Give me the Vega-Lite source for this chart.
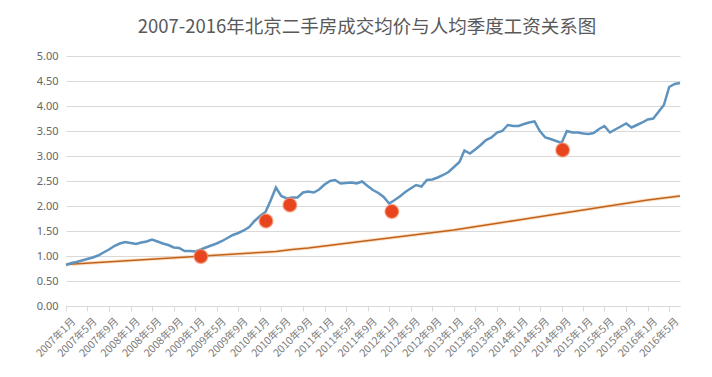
{
  "$schema": "https://vega.github.io/schema/vega-lite/v6.json",
  "width": 614,
  "height": 250,
  "autosize": {"type": "none"},
  "padding": {"left": 66, "top": 56, "right": 32, "bottom": 71},
  "background": "white",
  "config": {
    "view": {"stroke": null},
    "font": "Noto Sans CJK SC"
  },
  "title": {
    "text": "2007-2016年北京二手房成交均价与人均季度工资关系图",
    "fontSize": 18.5,
    "fontWeight": "normal",
    "color": "#595959",
    "font": "Noto Sans CJK SC",
    "anchor": "middle",
    "dx": -6,
    "offset": 14
  },
  "datasets": {
    "price": [
      {"d": "2007-01-01", "v": 0.82}, {"d": "2007-02-01", "v": 0.86}, {"d": "2007-03-01", "v": 0.88}, {"d": "2007-04-01", "v": 0.91},
      {"d": "2007-05-01", "v": 0.94}, {"d": "2007-06-01", "v": 0.97}, {"d": "2007-07-01", "v": 1.01}, {"d": "2007-08-01", "v": 1.07},
      {"d": "2007-09-01", "v": 1.13}, {"d": "2007-10-01", "v": 1.20}, {"d": "2007-11-01", "v": 1.25}, {"d": "2007-12-01", "v": 1.28},
      {"d": "2008-01-01", "v": 1.26}, {"d": "2008-02-01", "v": 1.24}, {"d": "2008-03-01", "v": 1.27}, {"d": "2008-04-01", "v": 1.29},
      {"d": "2008-05-01", "v": 1.33}, {"d": "2008-06-01", "v": 1.29}, {"d": "2008-07-01", "v": 1.25}, {"d": "2008-08-01", "v": 1.22},
      {"d": "2008-09-01", "v": 1.17}, {"d": "2008-10-01", "v": 1.16}, {"d": "2008-11-01", "v": 1.10}, {"d": "2008-12-01", "v": 1.10},
      {"d": "2009-01-01", "v": 1.09}, {"d": "2009-02-01", "v": 1.13}, {"d": "2009-03-01", "v": 1.17}, {"d": "2009-04-01", "v": 1.21},
      {"d": "2009-05-01", "v": 1.25}, {"d": "2009-06-01", "v": 1.30}, {"d": "2009-07-01", "v": 1.36}, {"d": "2009-08-01", "v": 1.42},
      {"d": "2009-09-01", "v": 1.46}, {"d": "2009-10-01", "v": 1.51}, {"d": "2009-11-01", "v": 1.58}, {"d": "2009-12-01", "v": 1.70},
      {"d": "2010-01-01", "v": 1.80}, {"d": "2010-02-01", "v": 1.88}, {"d": "2010-03-01", "v": 2.10}, {"d": "2010-04-01", "v": 2.37},
      {"d": "2010-05-01", "v": 2.20}, {"d": "2010-06-01", "v": 2.15}, {"d": "2010-07-01", "v": 2.17}, {"d": "2010-08-01", "v": 2.17},
      {"d": "2010-09-01", "v": 2.27}, {"d": "2010-10-01", "v": 2.29}, {"d": "2010-11-01", "v": 2.27}, {"d": "2010-12-01", "v": 2.33},
      {"d": "2011-01-01", "v": 2.43}, {"d": "2011-02-01", "v": 2.50}, {"d": "2011-03-01", "v": 2.52}, {"d": "2011-04-01", "v": 2.45},
      {"d": "2011-05-01", "v": 2.46}, {"d": "2011-06-01", "v": 2.47}, {"d": "2011-07-01", "v": 2.45}, {"d": "2011-08-01", "v": 2.49},
      {"d": "2011-09-01", "v": 2.40}, {"d": "2011-10-01", "v": 2.32}, {"d": "2011-11-01", "v": 2.26}, {"d": "2011-12-01", "v": 2.18},
      {"d": "2012-01-01", "v": 2.05}, {"d": "2012-02-01", "v": 2.12}, {"d": "2012-03-01", "v": 2.19}, {"d": "2012-04-01", "v": 2.28},
      {"d": "2012-05-01", "v": 2.35}, {"d": "2012-06-01", "v": 2.42}, {"d": "2012-07-01", "v": 2.39}, {"d": "2012-08-01", "v": 2.52},
      {"d": "2012-09-01", "v": 2.53}, {"d": "2012-10-01", "v": 2.57}, {"d": "2012-11-01", "v": 2.62}, {"d": "2012-12-01", "v": 2.68},
      {"d": "2013-01-01", "v": 2.78}, {"d": "2013-02-01", "v": 2.88}, {"d": "2013-03-01", "v": 3.11}, {"d": "2013-04-01", "v": 3.05},
      {"d": "2013-05-01", "v": 3.13}, {"d": "2013-06-01", "v": 3.22}, {"d": "2013-07-01", "v": 3.32}, {"d": "2013-08-01", "v": 3.37},
      {"d": "2013-09-01", "v": 3.47}, {"d": "2013-10-01", "v": 3.50}, {"d": "2013-11-01", "v": 3.62}, {"d": "2013-12-01", "v": 3.60},
      {"d": "2014-01-01", "v": 3.60}, {"d": "2014-02-01", "v": 3.64}, {"d": "2014-03-01", "v": 3.67}, {"d": "2014-04-01", "v": 3.69},
      {"d": "2014-05-01", "v": 3.50}, {"d": "2014-06-01", "v": 3.37}, {"d": "2014-07-01", "v": 3.34}, {"d": "2014-08-01", "v": 3.30},
      {"d": "2014-09-01", "v": 3.26}, {"d": "2014-10-01", "v": 3.50}, {"d": "2014-11-01", "v": 3.47}, {"d": "2014-12-01", "v": 3.47},
      {"d": "2015-01-01", "v": 3.45}, {"d": "2015-02-01", "v": 3.44}, {"d": "2015-03-01", "v": 3.46}, {"d": "2015-04-01", "v": 3.54},
      {"d": "2015-05-01", "v": 3.60}, {"d": "2015-06-01", "v": 3.47}, {"d": "2015-07-01", "v": 3.53}, {"d": "2015-08-01", "v": 3.59},
      {"d": "2015-09-01", "v": 3.65}, {"d": "2015-10-01", "v": 3.57}, {"d": "2015-11-01", "v": 3.62}, {"d": "2015-12-01", "v": 3.67},
      {"d": "2016-01-01", "v": 3.73}, {"d": "2016-02-01", "v": 3.75}, {"d": "2016-03-01", "v": 3.88}, {"d": "2016-04-01", "v": 4.02},
      {"d": "2016-05-01", "v": 4.38}, {"d": "2016-06-01", "v": 4.44}, {"d": "2016-07-01", "v": 4.46}
    ],
    "wage": [
      {"d": "2007-01-01", "v": 0.83}, {"d": "2007-04-01", "v": 0.85}, {"d": "2007-07-01", "v": 0.87}, {"d": "2007-10-01", "v": 0.89},
      {"d": "2008-01-01", "v": 0.91}, {"d": "2008-04-01", "v": 0.93}, {"d": "2008-07-01", "v": 0.95}, {"d": "2008-10-01", "v": 0.97},
      {"d": "2009-01-01", "v": 0.99}, {"d": "2009-04-01", "v": 1.01}, {"d": "2009-07-01", "v": 1.03}, {"d": "2009-10-01", "v": 1.05},
      {"d": "2010-01-01", "v": 1.07}, {"d": "2010-04-01", "v": 1.09}, {"d": "2010-07-01", "v": 1.13}, {"d": "2010-10-01", "v": 1.16},
      {"d": "2011-01-01", "v": 1.20}, {"d": "2011-04-01", "v": 1.24}, {"d": "2011-07-01", "v": 1.28}, {"d": "2011-10-01", "v": 1.32},
      {"d": "2012-01-01", "v": 1.36}, {"d": "2012-04-01", "v": 1.40}, {"d": "2012-07-01", "v": 1.44}, {"d": "2012-10-01", "v": 1.48},
      {"d": "2013-01-01", "v": 1.52}, {"d": "2013-04-01", "v": 1.57}, {"d": "2013-07-01", "v": 1.62}, {"d": "2013-10-01", "v": 1.67},
      {"d": "2014-01-01", "v": 1.72}, {"d": "2014-04-01", "v": 1.77}, {"d": "2014-07-01", "v": 1.82}, {"d": "2014-10-01", "v": 1.87},
      {"d": "2015-01-01", "v": 1.92}, {"d": "2015-04-01", "v": 1.97}, {"d": "2015-07-01", "v": 2.02}, {"d": "2015-10-01", "v": 2.07},
      {"d": "2016-01-01", "v": 2.12}, {"d": "2016-04-01", "v": 2.16}, {"d": "2016-07-01", "v": 2.20}
    ],
    "events": [
      {"d": "2009-02-01", "v": 0.99},
      {"d": "2010-02-04", "v": 1.70},
      {"d": "2010-06-19", "v": 2.02},
      {"d": "2012-01-16", "v": 1.89},
      {"d": "2014-09-07", "v": 3.12}
    ]
  },
  "encoding": {
    "x": {
      "field": "d",
      "type": "temporal",
      "scale": {"type": "utc", "domain": ["2007-01-01", "2016-07-01"], "nice": false},
      "axis": {
        "title": null,
        "grid": false,
        "tickCount": {"interval": "month", "step": 4},
        "labelExpr": "utcFormat(datum.value, '%Y年') + (utcmonth(datum.value) + 1) + '月'",
        "labelAngle": -45,
        "labelAlign": "right",
        "labelBaseline": "top",
        "labelFontSize": 10.5,
        "labelColor": "#7a7a7a",
        "labelFont": "Noto Sans CJK SC",
        "labelOverlap": false,
        "labelFlush": false,
        "labelPadding": 5,
        "labelOffset": 4,
        "domainColor": "#d9d9d9",
        "tickColor": "#d9d9d9",
        "tickSize": 5
      }
    },
    "y": {
      "field": "v",
      "type": "quantitative",
      "scale": {"domain": [0, 5], "nice": false},
      "axis": {
        "title": null,
        "values": [0, 0.5, 1, 1.5, 2, 2.5, 3, 3.5, 4, 4.5, 5],
        "format": ".2f",
        "domain": false,
        "ticks": false,
        "labelPadding": 8,
        "labelFontSize": 11,
        "labelColor": "#666666",
        "labelFont": "Noto Sans",
        "gridColor": "#d9d9d9",
        "gridWidth": 1
      }
    }
  },
  "layer": [
    {
      "data": {"name": "wage"},
      "mark": {"type": "line", "color": "#f9c28c", "strokeWidth": 3.5, "opacity": 0.5}
    },
    {
      "data": {"name": "wage"},
      "mark": {"type": "line", "color": "#c0621c", "strokeWidth": 1.5}
    },
    {
      "data": {"name": "price"},
      "mark": {"type": "line", "color": "#5e93bf", "strokeWidth": 2.5}
    },
    {
      "data": {"name": "events"},
      "mark": {"type": "circle", "color": "#e8441e", "size": 190, "opacity": 1, "stroke": "#f59a7a", "strokeWidth": 1.5, "strokeOpacity": 0.6}
    }
  ]
}
